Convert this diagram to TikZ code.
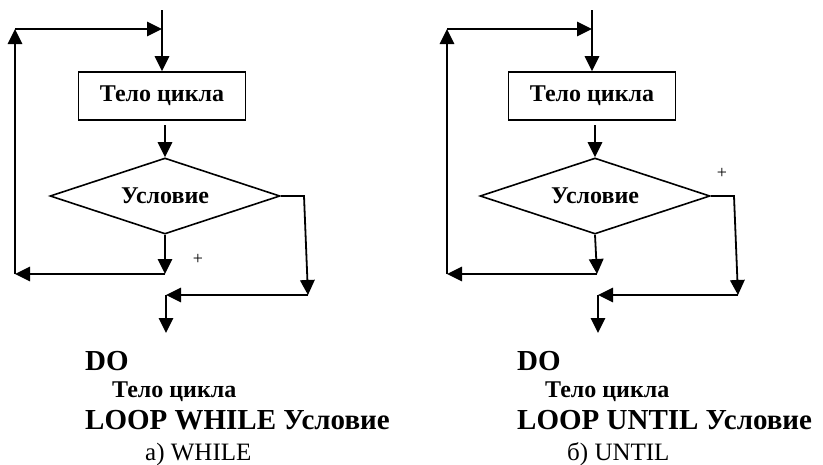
\documentclass[tikz,border=0pt]{standalone}
\usepackage{fontspec}
\setmainfont{Liberation Serif}
\usetikzlibrary{arrows.meta,shapes.geometric,calc}
\begin{document}
\begin{tikzpicture}[x=1pt,y=-1pt,
  ln/.style={line width=1.8pt},
  arr/.style={ln,-{Triangle[length=15pt,width=14.5pt]}},
  body/.style={draw,line width=1.6pt,minimum width=167pt,minimum height=48pt,inner sep=0pt,font=\fontsize{24}{26}\selectfont\bfseries},
  cond/.style={draw,line width=1.6pt,diamond,aspect=3,minimum width=230pt,minimum height=76pt,inner sep=0pt,font=\fontsize{24}{26}\selectfont\bfseries},
  big/.style={anchor=base west,inner sep=0pt,font=\fontsize{29}{32}\selectfont\bfseries},
  mid/.style={anchor=base west,inner sep=0pt,font=\fontsize{24}{26}\selectfont\bfseries},
  captxt/.style={anchor=base west,inner sep=0pt,font=\fontsize{25}{27}\selectfont},
  plus/.style={inner sep=0pt,font=\fontsize{18}{20}\selectfont}]
\useasboundingbox (0,0) rectangle (823,464);

% ---------- left: WHILE ----------
\node[body] (bA) at (162,96) {Тело цикла};
\node[cond] (dA) at (165,196) {Условие};
\coordinate (tA) at (162,10);
\coordinate (jA) at (162,29);
\coordinate (ltA) at (15,29);
\coordinate (lbA) at (15,274);
\coordinate (rbA) at (165,274);
\coordinate (r1A) at (304,196);
\coordinate (r2A) at (308,295);
\coordinate (exA) at (166,295);
\coordinate (outA) at (166,333);
\coordinate (sA) at (165,125);
\node[plus] (pA) at (198,259) {+};

\draw[ln] (tA) -- (jA);
\draw[arr] (jA) -- (bA.north);
\draw[arr] (sA) -- (dA.north);
\draw[arr] (dA.south) -- (rbA);
\draw[arr] (rbA) -- (lbA);
\draw[arr] (lbA) -- (ltA);
\draw[arr] (ltA) -- (jA);
\draw[arr] (dA.east) -- (r1A) -- (r2A);
\draw[arr] (r2A) -- (exA);
\draw[arr] (exA) -- (outA);

\node[big] (doA) at (85,370) {DO};
\node[mid] (tbA) at (112,397) {Тело цикла};
\node[big] (lpA) at (85,429) {LOOP WHILE Условие};
\node[captxt] (cA) at (145,460) {а) WHILE};

% ---------- right: UNTIL ----------
\node[body] (bB) at (592,96) {Тело цикла};
\node[cond] (dB) at (595,196) {Условие};
\coordinate (tB) at (592,10);
\coordinate (jB) at (592,29);
\coordinate (ltB) at (447,29);
\coordinate (lbB) at (447,274);
\coordinate (rbB) at (597,274);
\coordinate (r1B) at (734,196);
\coordinate (r2B) at (738,295);
\coordinate (exB) at (598,295);
\coordinate (outB) at (598,333);
\coordinate (sB) at (595,125);
\node[plus] (pB) at (722,173) {+};

\draw[ln] (tB) -- (jB);
\draw[arr] (jB) -- (bB.north);
\draw[arr] (sB) -- (dB.north);
\draw[arr] (dB.south) -- (rbB);
\draw[arr] (rbB) -- (lbB);
\draw[arr] (lbB) -- (ltB);
\draw[arr] (ltB) -- (jB);
\draw[arr] (dB.east) -- (r1B) -- (r2B);
\draw[arr] (r2B) -- (exB);
\draw[arr] (exB) -- (outB);

\node[big] (doB) at (517,370) {DO};
\node[mid] (tbB) at (545,397) {Тело цикла};
\node[big] (lpB) at (517,429) {LOOP UNTIL Условие};
\node[captxt] (cB) at (567,460) {б) UNTIL};
\end{tikzpicture}
\end{document}
